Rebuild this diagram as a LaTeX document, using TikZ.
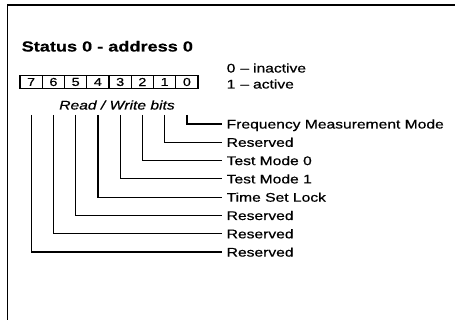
\documentclass[tikz,border=0pt]{standalone}
\usepackage{fontspec}
\setmainfont{Liberation Sans}[FakeStretch=1.25, FakeBold=0.6]
\begin{document}
\begin{tikzpicture}[x=1pt,y=-1pt,
  lbl/.style={anchor=west, inner sep=0pt, text height=9pt, text depth=0pt, font=\fontsize{12.5}{14}\selectfont},
  cell/.style={draw, line width=1.1pt, minimum width=22.25pt, minimum height=12.5pt, inner sep=0pt, font=\fontsize{11.5}{13}\selectfont},
  leader/.style={line width=1.2pt},
  frame/.style={line width=1.5pt}]
\useasboundingbox (0,0) rectangle (455,320);
% frame (only top and left edges visible)
\coordinate (fb) at (7.5,320);
\coordinate (fc) at (7.5,4.8);
\coordinate (fe) at (455,4.8);
\draw[frame] (fb) -- (fc) -- (fe);
% title
\node[anchor=base west, inner sep=0pt, font=\bfseries\fontsize{14.5}{16}\selectfont] (title) at (21.5,51.5) {Status 0 - address 0};
% bit cells
\foreach \i in {0,...,7}
  \node[cell] (b\i) at ({186.9-22.25*\i},82) {\i};
% legend
\node[lbl] (inact) at (226.5,68) {0\hspace{5pt}\textendash\hspace{4pt}inactive};
\node[lbl] (act) at (226.5,84) {1\hspace{5pt}\textendash\hspace{4pt}active};
% read/write
\node[anchor=base, inner sep=0pt, font=\itshape\fontsize{12.5}{14}\selectfont] (rw) at (117,109.5) {Read / Write bits};
% labels
\foreach \i/\t in {0/Frequency Measurement Mode, 1/Reserved, 2/Test Mode 0, 3/Test Mode 1, 4/Time Set Lock, 5/Reserved, 6/Reserved, 7/Reserved} {
  \node[lbl] (l\i) at (226.5,{124+18.3*\i}) {\t};
  \coordinate (s\i) at ({186.9-22.25*\i},115);
  \draw[leader] (s\i) |- ([xshift=-5pt]l\i.west);
}
\end{tikzpicture}
\end{document}
